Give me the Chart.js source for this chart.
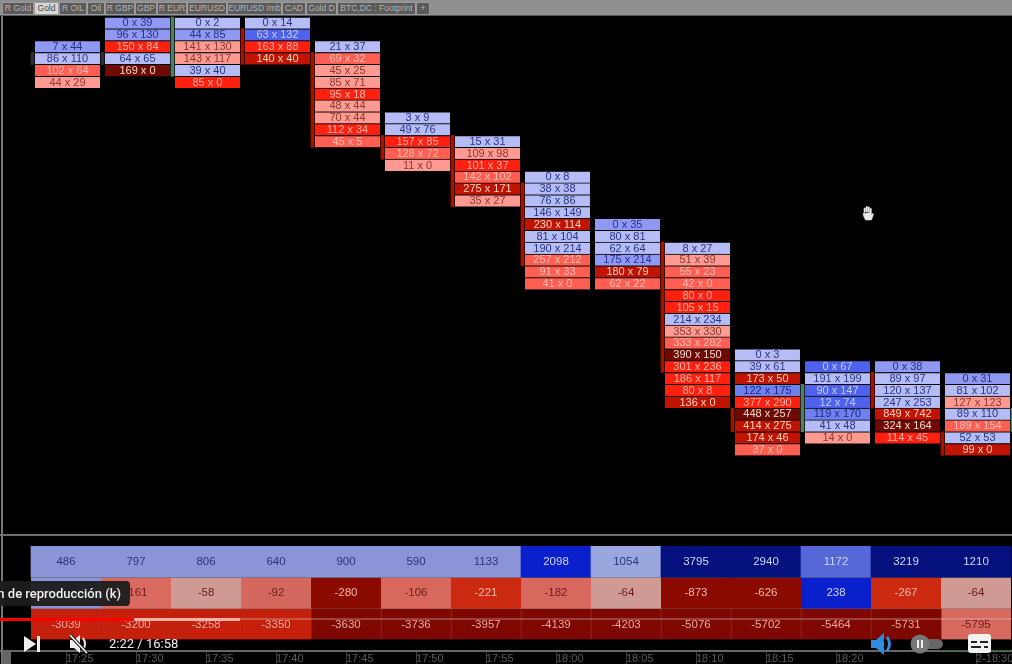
<!DOCTYPE html>
<html>
<head>
<meta charset="utf-8">
<title>Gold footprint</title>
<script src="https://cdn.jsdelivr.net/npm/chart.js@4"></script>
<style>
  html, body { margin: 0; background: #000; }
  #page { position: relative; width: 1012px; height: 664px; overflow: hidden; background: #000; font-family: "Liberation Sans", Arial, sans-serif; }
  canvas { position: absolute; left: 0; filter: blur(0.45px); }
  #footprint { top: 16px; }
  #table { top: 546px; }
  #tabs { position: absolute; left: 0; top: 0; width: 1012px; height: 15px; background: #8f8f8f; border-bottom: 1px solid #555; }
  #tabs span { position: absolute; top: 2px; height: 11px; line-height: 11px; font-size: 8.5px; white-space: nowrap; overflow: hidden; text-align: center; color: #b4b4b4; background: #5a5a5a; border: 1px solid #9c9c9c; margin-left: -1px; }
  #tabs span.on { background: #d8d8d8; color: #444; }
  .line { position: absolute; background: #6e6e6e; }
  #tip { position: absolute; left: -20px; top: 581px; width: 150px; height: 25px; border-radius: 4px; background: rgba(28,28,28,.94); color: #eee; font: 500 13px/25px Roboto, sans-serif; text-align: right; white-space: nowrap; }
  #tip b { font-weight: 500; margin-right: 9px; }
  .bar { position: absolute; left: 0; top: 618px; height: 3px; }
  #time { position: absolute; left: 109px; top: 636px; color: #eee; font: 13px/16px Roboto, sans-serif; }
  svg { position: absolute; }
</style>
</head>
<body>
<div id="page">
  <div id="tabs"></div>
  <canvas id="footprint" width="1012" height="518"></canvas>
  <div class="line" style="left:0;top:534px;width:1012px;height:2px"></div>
  <canvas id="table" width="1012" height="118"></canvas>
  <div class="line" style="left:1px;top:16px;width:2px;height:648px;background:#777"></div>
  <div class="line" style="left:2px;top:650px;width:9px;height:14px;background:#666"></div>
  <div class="line" style="left:940px;top:650px;width:72px;height:1px;background:#2c6a2c"></div>

  <svg style="left:859px;top:204px" width="18" height="18" viewBox="0 0 18 18">
    <path d="M5 9V4h1.4v4M7 8V2.5h1.5V8M9 8V3h1.5v5M11 8.5V4.5h1.4V11l1.2-1.5 1 .6L12.5 16H6.5L4.5 12 4 9.5z" fill="#e8e8e8" stroke="#e8e8e8" stroke-width=".5"/>
  </svg>

  <div id="tip"><b>n de reproducción (k)</b></div>
  <div class="bar" style="width:240px;background:#e8b4aa"></div>
  <div class="bar" style="width:134px;background:#f00"></div>
  <div class="bar" style="left:240px;width:772px;height:2px;background:rgba(220,200,200,.3)"></div>

  <svg style="left:22px;top:635px" width="20" height="18" viewBox="0 0 20 18"><path d="M2 1l12 8-12 8zM15 1h3v16h-3z" fill="#eee"/></svg>
  <svg style="left:68px;top:634px" width="22" height="20" viewBox="0 0 22 20"><path d="M2 6h4l6-5v18l-6-5H2z" fill="#eee"/><path d="M15 4q4 6 0 12" fill="none" stroke="#eee" stroke-width="2"/><path d="M2 1l17 18" stroke="#111" stroke-width="3.5"/><path d="M2 1l17 18" stroke="#eee" stroke-width="1.8"/></svg>
  <div id="time">2:22 / 16:58</div>
  <svg style="left:870px;top:632px" width="24" height="24" viewBox="0 0 24 24"><path d="M1 8h5l8-7v22l-8-7H1z" fill="#2d8be0"/><path d="M17 5q5 7 0 14" fill="none" stroke="#2d8be0" stroke-width="3"/><path d="M14 8q3 4 0 8" fill="none" stroke="#111" stroke-width="1.5"/></svg>
  <svg style="left:910px;top:634px" width="34" height="20" viewBox="0 0 34 20"><rect x="6" y="5" width="27" height="10" rx="5" fill="#666"/><circle cx="10" cy="10" r="9.5" fill="#777"/><path d="M7 6h2v8H7zM11 6h2v8h-2z" fill="#eee"/></svg>
  <svg style="left:968px;top:634px" width="23" height="19" viewBox="0 0 23 19"><rect width="23" height="19" rx="3" fill="#f2f2f2"/><path d="M3 8h6M12 8h8M3 13h10M16 13h4" stroke="#222" stroke-width="2"/></svg>
</div>

<script>
// tab strip
const tabNames = ["R Gold", "Gold", "R OIL", "Oil", "R GBP", "GBP", "R EUR", "EURUSD", "EURUSD Imb", "CAD", "Gold D", "BTC,DC : Footprint", "+"];
const tabEdges = [3, 35, 60, 88, 106, 136, 158, 188, 228, 283, 307, 338, 417, 431];
tabNames.forEach((name, i) => {
  let tab = document.createElement("span");
  tab.textContent = name;
  tab.style.left = tabEdges[i] + "px";
  tab.style.width = tabEdges[i + 1] - tabEdges[i] - 2 + "px";
  if (name === "Gold") tab.className = "on";
  document.getElementById("tabs").appendChild(tab);
});

// footprint: first price row of each bar, then bid x ask per row
const firstRow = [2, 0, 0, 0, 2, 8, 10, 13, 17, 19, 28, 29, 29, 30];
const bidVolume = [
  [7, 86, 102, 44],
  [0, 96, 150, 64, 169],
  [0, 44, 141, 143, 39, 85],
  [0, 63, 163, 140],
  [21, 69, 45, 85, 95, 48, 70, 112, 45],
  [3, 49, 157, 128, 11],
  [15, 109, 101, 142, 275, 35],
  [0, 38, 76, 146, 230, 81, 190, 257, 91, 41],
  [0, 80, 62, 175, 180, 62],
  [8, 51, 55, 42, 80, 105, 214, 353, 333, 390, 301, 186, 80, 136],
  [0, 39, 173, 122, 377, 448, 414, 174, 37],
  [0, 191, 90, 12, 119, 41, 14],
  [0, 89, 120, 247, 849, 324, 114],
  [0, 81, 127, 89, 189, 52, 99],
];
const askVolume = [
  [44, 110, 64, 29],
  [39, 130, 84, 65, 0],
  [2, 85, 130, 117, 40, 0],
  [14, 132, 88, 40],
  [37, 32, 25, 71, 18, 44, 44, 34, 5],
  [9, 76, 85, 72, 0],
  [31, 98, 37, 102, 171, 27],
  [8, 38, 86, 149, 114, 104, 214, 212, 33, 0],
  [35, 81, 64, 214, 79, 22],
  [27, 39, 23, 0, 0, 15, 234, 330, 282, 150, 236, 117, 8, 0],
  [3, 61, 50, 175, 290, 257, 275, 46, 0],
  [67, 199, 147, 74, 170, 48, 0],
  [38, 97, 137, 253, 742, 164, 45],
  [31, 102, 123, 110, 154, 53, 0],
];

// candle bodies between the columns: bar index, from row, to row, direction
const bodyBar = [0, 1, 2, 3, 4, 5, 6, 7, 9, 10, 11, 12, 13, 14];
const bodyFrom = [3, 3, 0, 1, 3, 10, 10, 14, 19, 33, 31, 30, 35, 33];
const bodyTo = [4, 4, 5, 4, 11, 12, 16, 21, 30, 35, 35, 33, 37, 35];
const bodyDir = [0, 0, 1, -1, -1, -1, -1, -1, -1, -1, 1, -1, -1, 1];

// bottom table
const volumeRow = [486, 797, 806, 640, 900, 590, 1133, 2098, 1054, 3795, 2940, 1172, 3219, 1210];
const deltaRow = [37, -161, -58, -92, -280, -106, -221, -182, -64, -873, -626, 238, -267, -64];
const cumDeltaRow = [-3039, -3200, -3258, -3350, -3630, -3736, -3957, -4139, -4203, -5076, -5702, -5464, -5731, -5795];
const timeLabels = ["17:25", "17:30", "17:35", "17:40", "17:45", "17:50", "17:55", "18:00", "18:05", "18:10", "18:15", "18:20", "", "2-18:30"];

const volumeColors = ["#8a94d6", "#8a94d6", "#8a94d6", "#8a94d6", "#8a94d6", "#8a94d6", "#8a94d6", "#0a20cc", "#9aa6de", "#04107e", "#04107e", "#5668d8", "#04107e", "#04107e"];
const deltaColors = ["#8a94d6", "#d86a60", "#cf9a94", "#d4675e", "#8a0a00", "#d8685e", "#cc2a10", "#d8685e", "#cf9a94", "#8a0a00", "#8a0a00", "#0a20cc", "#cc2a10", "#cf9a94"];
const cumColors = ["#c4200c", "#c4200c", "#c4200c", "#c4200c", "#7e0800", "#7e0800", "#7e0800", "#7e0800", "#7e0800", "#7e0800", "#7e0800", "#7e0800", "#7e0800", "#d8695e"];

// shade of a cell comes from its delta
function cellStyle(bid, ask) {
  let d = ask - bid;
  if (d >= 0) {
    if (d < 30) return { bg: "#b6bdf6", text: "#2a3585" };
    if (d < 46) return { bg: "#8f99f2", text: "#27318f" };
    if (d < 56) return { bg: "#7080ee", text: "#1c2a88" };
    return { bg: "#4e62ee", text: "#c4ccff" };
  }
  d = -d;
  if (d < 30) return { bg: "#ff9a92", text: "#8a3a34" };
  if (d < 61) return { bg: "#ff5f52", text: "#ffbcb2" };
  if (d < 95) return { bg: "#ff2010", text: "#ffb4a8" };
  if (d < 151) return { bg: "#c01400", text: "#ffd0c4" };
  return { bg: "#6e0a02", text: "#f0d8d0" };
}

const cells = [], cellColors = [], cellLabels = [], cellText = [];
bidVolume.forEach((bids, bar) => {
  bids.forEach((bid, i) => {
    let ask = askVolume[bar][i];
    let row = firstRow[bar] + i;
    let st = cellStyle(bid, ask);
    cells.push({ x: bar, y: [row, row + 1] });
    cellColors.push(st.bg);
    cellLabels.push(bid + " x " + ask);
    cellText.push(st.text);
  });
});
const bodies = bodyBar.map((bar, i) => ({ x: bar - 0.5, y: [bodyFrom[i], bodyTo[i]] }));
const bodyColors = bodyDir.map((d) => (d < 0 ? "#a81000" : d > 0 ? "#4f7f68" : "#2c2c3c"));

// draws the labels on top of the bars, per dataset
const barText = {
  id: "barText",
  afterDatasetsDraw(chart) {
    let ctx = chart.ctx;
    chart.data.datasets.forEach((ds, d) => {
      if (!ds.texts) return;
      chart.getDatasetMeta(d).data.forEach((bar, i) => {
        let props = bar.getProps(["x", "y", "base"], true);
        ctx.save();
        ctx.font = ds.textFont;
        ctx.fillStyle = Array.isArray(ds.textColor) ? ds.textColor[i] : ds.textColor;
        ctx.textAlign = "center";
        ctx.textBaseline = "middle";
        ctx.fillText(ds.texts[i], props.x, (props.y + props.base) / 2 + 0.5);
        ctx.restore();
      });
    });
  },
};

new Chart(document.getElementById("footprint"), {
  type: "bar",
  data: {
    datasets: [
      { data: bodies, backgroundColor: bodyColors, barThickness: 3, grouped: false },
      {
        data: cells,
        backgroundColor: cellColors,
        barThickness: 65,
        grouped: false,
        borderColor: "#000",
        borderWidth: { top: 1, bottom: 0, left: 0, right: 0 },
        borderSkipped: false,
        texts: cellLabels,
        textColor: cellText,
        textFont: '11px "Liberation Sans Narrow", "Liberation Sans"',
      },
    ],
  },
  options: {
    responsive: false,
    animation: false,
    events: [],
    layout: { padding: 0 },
    plugins: { legend: { display: false }, tooltip: { enabled: false } },
    scales: {
      x: { type: "linear", display: false, offset: false, min: -0.964, max: 13.493 },
      y: { type: "linear", display: false, reverse: true, min: -0.084, max: 43.63 },
    },
  },
  plugins: [barText],
});

const tableCell = (row) => (v, i) => ({ x: i, y: [row, row + 1] });
const tableBorder = "rgba(235,200,195,.35)";
const tableFont = '11.5px "Liberation Sans"';

new Chart(document.getElementById("table"), {
  type: "bar",
  data: {
    datasets: [
      { data: volumeRow.map(tableCell(0)), backgroundColor: volumeColors, barThickness: 70, grouped: false, texts: volumeRow, textFont: tableFont, textColor: volumeColors.map((c) => (c === "#8a94d6" || c === "#9aa6de" ? "#2a3478" : "#d0d6f4")) },
      { data: deltaRow.map(tableCell(1)), backgroundColor: deltaColors, barThickness: 70, grouped: false, borderColor: tableBorder, borderWidth: { top: 1, bottom: 0, left: 0, right: 0 }, borderSkipped: false, texts: deltaRow, textFont: tableFont, textColor: deltaColors.map((c) => (c === "#8a0a00" || c === "#cc2a10" ? "#f0b8ae" : c === "#0a20cc" ? "#d0d6f4" : "#6a1c18")) },
      { data: cumDeltaRow.map(tableCell(2)), backgroundColor: cumColors, barThickness: 70, grouped: false, borderColor: tableBorder, borderWidth: { top: 1, bottom: 0, left: 1, right: 0 }, borderSkipped: false, texts: cumDeltaRow, textFont: tableFont, textColor: cumColors.map((c) => (c === "#d8695e" ? "#6a1c18" : "#eca89e")) },
    ],
  },
  options: {
    responsive: false,
    animation: false,
    events: [],
    layout: { padding: 0 },
    plugins: { legend: { display: false }, tooltip: { enabled: false } },
    scales: {
      x: {
        type: "linear",
        offset: false,
        min: -0.94286,
        max: 13.51428,
        afterFit: (scale) => { scale.height = 13; },
        border: { color: "#666", width: 2 },
        grid: { offset: false, drawOnChartArea: false, tickLength: 13, color: (c) => (timeLabels[c.tick.value] ? "#3c3c3c" : "transparent") },
        ticks: {
          stepSize: 1,
          includeBounds: false,
          autoSkip: false,
          maxRotation: 0,
          align: "start",
          padding: -12,
          color: "#5a5a5a",
          font: { family: "Liberation Sans", size: 11 },
          callback: (v) => timeLabels[v],
        },
      },
      y: { type: "linear", display: false, reverse: true, min: 0, max: 3.37 },
    },
  },
  plugins: [barText],
});
</script>
</body>
</html>
